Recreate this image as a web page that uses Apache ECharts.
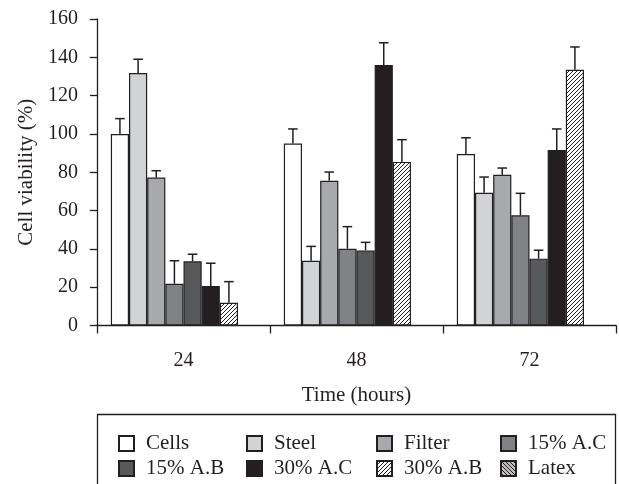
<!DOCTYPE html>
<html>
<head>
<meta charset="utf-8">
<script src="https://cdn.jsdelivr.net/npm/echarts@6/dist/echarts.min.js"></script>
<style>
  html, body { margin: 0; padding: 0; background: #fff; }
  #main { width: 619px; height: 484px; }
</style>
</head>
<body>
<div id="main"></div>
<script>
// data
var categories = ['24', '48', '72'];
var seriesNames = ['Cells', 'Steel', 'Filter', '15% A.C', '15% A.B', '30% A.C', '30% A.B', 'Latex'];
var yTicks = [0, 20, 40, 60, 80, 100, 120, 140, 160];

var cells = [100, 95, 89.5];
var steel = [131.8, 33.8, 69.3];
var filter = [77.2, 75.6, 78.7];
var ac15 = [21.8, 40.1, 57.5];
var ab15 = [33.5, 39.2, 34.9];
var ac30 = [20.6, 136, 91.6];
var ab30 = [11.9, 85.4, 133.5];
var latex = [null, null, null];

var cellsSd = [8, 7.6, 8.5];
var steelSd = [7.2, 7.5, 8.2];
var filterSd = [3.6, 4.5, 3.5];
var ac15Sd = [12, 11.5, 11.5];
var ab15Sd = [3.7, 4.2, 4.4];
var ac30Sd = [11.9, 11.6, 11];
var ab30Sd = [11, 11.6, 11.9];

var values = [cells, steel, filter, ac15, ab15, ac30, ab30, latex];
var sds = [cellsSd, steelSd, filterSd, ac15Sd, ab15Sd, ac30Sd, ab30Sd, []];

var ink = '#231f20';

function hatch(bg, dir) {
    var c = document.createElement('canvas');
    c.width = 4; c.height = 4;
    var ctx = c.getContext('2d');
    ctx.fillStyle = bg;
    ctx.fillRect(0, 0, 4, 4);
    ctx.strokeStyle = ink;
    ctx.lineWidth = 1;
    ctx.beginPath();
    if (dir > 0) {
        ctx.moveTo(-1, 5); ctx.lineTo(5, -1);
        ctx.moveTo(-1, 1); ctx.lineTo(1, -1);
        ctx.moveTo(3, 5); ctx.lineTo(5, 3);
    } else {
        ctx.moveTo(-1, -1); ctx.lineTo(5, 5);
        ctx.moveTo(3, -1); ctx.lineTo(5, 1);
        ctx.moveTo(-1, 3); ctx.lineTo(1, 5);
    }
    ctx.stroke();
    return { image: c, repeat: 'repeat' };
}

var fills = ['#ffffff', '#d1d3d4', '#a7a9ac', '#808285', '#58595b', ink,
             hatch('#ffffff', 1), hatch('#bcbec0', -1)];

var gap = 0.16;
var font = 'Liberation Serif';

var series = [];
for (var i = 0; i < seriesNames.length; i++) {
    series.push({
        name: seriesNames[i],
        type: 'bar',
        barGap: 0,
        barCategoryGap: (gap * 100) + '%',
        data: values[i],
        itemStyle: { color: fills[i], borderColor: ink, borderWidth: 1.2 },
        emphasis: { disabled: true }
    });
}

// error bars (upper whisker only)
var errData = [];
for (var s = 0; s < 7; s++) {
    for (var k = 0; k < categories.length; k++) {
        errData.push([k, s, values[s][k], sds[s][k]]);
    }
}
series.push({
    name: 'err',
    type: 'custom',
    z: 5,
    data: errData,
    renderItem: function (params, api) {
        var cat = api.value(0), si = api.value(1);
        var mean = api.value(2), sd = api.value(3);
        var band = api.size([1, 0])[0];
        var bw = band * (1 - gap) / seriesNames.length;
        var x = api.coord([cat, 0])[0] + (si - (seriesNames.length - 1) / 2) * bw;
        var y0 = api.coord([cat, mean])[1];
        var y1 = api.coord([cat, mean + sd])[1];
        var st = { stroke: ink, lineWidth: 1.5 };
        return {
            type: 'group',
            children: [
                { type: 'line', shape: { x1: x, y1: y0, x2: x, y2: y1 }, style: st },
                { type: 'line', shape: { x1: x - 4.8, y1: y1, x2: x + 4.8, y2: y1 }, style: st }
            ]
        };
    }
});

var myChart = echarts.init(document.getElementById('main'));

var legendCols = [113, 241, 371, 495];
var legends = [];
for (var c = 0; c < 4; c++) {
    legends.push({
        data: [seriesNames[c], seriesNames[c + 4]],
        orient: 'vertical',
        left: legendCols[c],
        top: 428,
        itemGap: 4,
        itemWidth: 15,
        itemHeight: 15,
        icon: 'rect',
        selectedMode: false,
        textStyle: { fontFamily: font, fontSize: 21, lineHeight: 21, color: ink, padding: [0, 0, 0, 7] }
    });
}

var option = {
    animation: false,
    backgroundColor: '#fff',
    grid: { left: 97, right: 3, top: 19, bottom: 158.5 },
    legend: legends,
    graphic: [{
        type: 'rect',
        shape: { x: 97.5, y: 414.5, width: 518, height: 80 },
        style: { fill: 'none', stroke: ink, lineWidth: 1.3 },
        silent: true
    }],
    xAxis: {
        type: 'category',
        data: categories,
        name: 'Time (hours)',
        nameLocation: 'middle',
        nameGap: 59,
        nameTextStyle: { fontFamily: font, fontSize: 21, color: ink },
        axisLine: { lineStyle: { color: ink, width: 1.3 } },
        axisTick: { show: true, length: 8, lineStyle: { color: ink, width: 1.3 } },
        axisLabel: { fontFamily: font, fontSize: 20, color: ink, margin: 25 }
    },
    yAxis: {
        type: 'value',
        min: yTicks[0],
        max: yTicks[yTicks.length - 1],
        interval: yTicks[1] - yTicks[0],
        name: 'Cell viability (%)',
        nameLocation: 'middle',
        nameGap: 50,
        nameTextStyle: { fontFamily: font, fontSize: 21, color: ink },
        splitLine: { show: false },
        axisLine: { show: true, lineStyle: { color: ink, width: 1.3 } },
        axisTick: { show: true, length: 7, lineStyle: { color: ink, width: 1.3 } },
        axisLabel: { fontFamily: font, fontSize: 20, color: ink, margin: 19 }
    },
    series: series
};

myChart.setOption(option);
</script>
</body>
</html>
